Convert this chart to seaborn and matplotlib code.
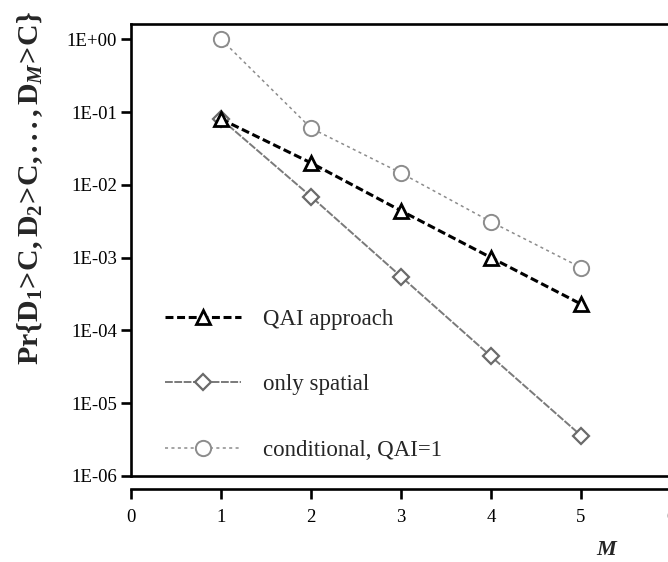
import numpy as np
import pandas as pd
import matplotlib
matplotlib.use("Agg")
import matplotlib.pyplot as plt
import seaborn as sns

# ---- data ----
M = [1, 2, 3, 4, 5]
qai_approach = [8.0e-2, 2.0e-2, 4.4e-3, 1.0e-3, 2.3e-4]
only_spatial = [8.0e-2, 6.9e-3, 5.5e-4, 4.4e-5, 3.6e-6]
conditional = [1.0e+0, 6.0e-2, 1.45e-2, 3.1e-3, 7.3e-4]
series_labels = ["QAI approach", "only spatial", "conditional, QAI=1"]
y_ticks = [1e0, 1e-1, 1e-2, 1e-3, 1e-4, 1e-5, 1e-6]
y_ticklabels = ["1E+00", "1E-01", "1E-02", "1E-03", "1E-04", "1E-05", "1E-06"]
x_ticks = [0, 1, 2, 3, 4, 5, 6]

sns.set_style("ticks")
plt.rcParams["font.family"] = ["Liberation Serif", "DejaVu Serif"]
plt.rcParams["mathtext.fontset"] = "custom"
plt.rcParams["mathtext.rm"] = "Liberation Serif"
plt.rcParams["mathtext.bf"] = "Liberation Serif:bold"
plt.rcParams["mathtext.it"] = "Liberation Serif:italic"
plt.rcParams["mathtext.bfit"] = "Liberation Serif:bold:italic"

W, H = 668, 562
fig = plt.figure(figsize=(W / 100, H / 100), dpi=100)
left_px, right_px, top_px, bot_px = 131, 671, 24, 476
ax = fig.add_axes([left_px / W, 1 - bot_px / H, (right_px - left_px) / W, (bot_px - top_px) / H])

df = pd.DataFrame({"M": M, "qai": qai_approach, "spatial": only_spatial, "cond": conditional})

sns.lineplot(data=df, x="M", y="qai", ax=ax, color="black", linewidth=2.2,
             linestyle=(0, (2.6, 1.2)), marker="^", markersize=10,
             markerfacecolor="white", markeredgecolor="black", markeredgewidth=2.0,
             label=series_labels[0], zorder=4)
sns.lineplot(data=df, x="M", y="spatial", ax=ax, color="#7a7a7a", linewidth=1.4,
             linestyle=(0, (4, 0.8)), marker="D", markersize=8,
             markerfacecolor="white", markeredgecolor="#6a6a6a", markeredgewidth=1.6,
             label=series_labels[1], zorder=3)
sns.lineplot(data=df, x="M", y="cond", ax=ax, color="#8c8c8c", linewidth=1.1,
             linestyle=(0, (2, 2.2)), marker="o", markersize=11,
             markerfacecolor="white", markeredgecolor="#8c8c8c", markeredgewidth=1.4,
             label=series_labels[2], zorder=3)

ax.set_yscale("log")
ax.set_xlim(0, 6)
ax.set_ylim(1e-6, 10 ** ((bot_px - top_px) / 72.8 - 6))
ax.set_yticks(y_ticks)
ax.set_yticklabels(y_ticklabels)
ax.yaxis.set_minor_locator(matplotlib.ticker.NullLocator())
ax.set_xticks(x_ticks)
ax.set_xticklabels([str(v) for v in x_ticks])

for s in ["left", "top", "right", "bottom"]:
    ax.spines[s].set_linewidth(1.9)
    ax.spines[s].set_color("black")
ax.spines["bottom"].set_position(("outward", 9.5))
ax.axhline(1e-6, color="black", linewidth=1.9, clip_on=False, zorder=5)

ax.tick_params(axis="both", direction="out", length=7.5, width=1.9, colors="black",
               labelsize=13.5)
ax.tick_params(axis="y", pad=2.5)
ax.tick_params(axis="x", pad=7)

ax.set_ylabel(r"$\mathbf{Pr\{D_1\!>\!C,D_2\!>\!C,...,D_{\mathbfit{M}}\!>\!C\}}$",
              fontsize=21.5)
ax.yaxis.set_label_coords((45 - left_px) / (right_px - left_px), (bot_px - 188) / (bot_px - top_px))
ax.set_xlabel("M", fontsize=16, fontweight="bold", fontstyle="italic")
ax.xaxis.set_label_coords((606 - left_px) / (right_px - left_px), (bot_px - 540) / (bot_px - top_px))

leg = ax.legend(loc="upper left", bbox_to_anchor=((156 - left_px) / (right_px - left_px),
                                                  (bot_px - 300) / (bot_px - top_px)),
                frameon=False, fontsize=16.5, handlelength=3.3, handletextpad=0.95,
                labelspacing=1.93, borderaxespad=0, borderpad=0.4)

fig.savefig("out.png", dpi=100)
